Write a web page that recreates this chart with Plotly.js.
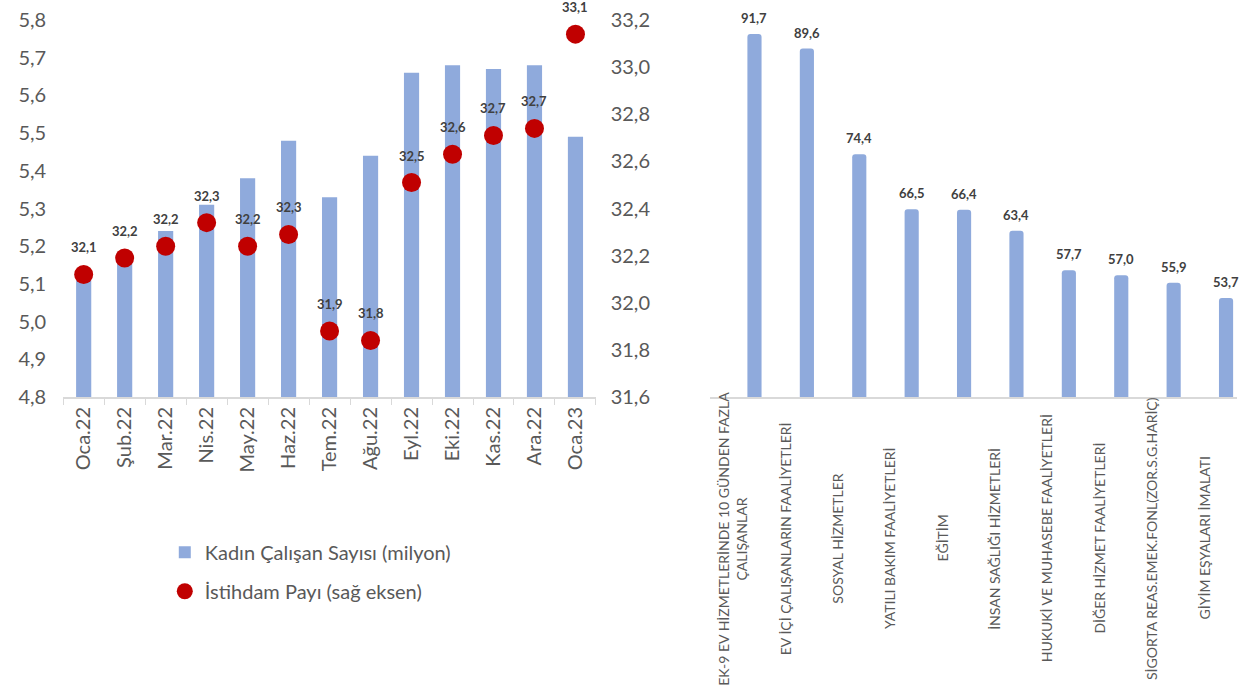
<!DOCTYPE html>
<html>
<head>
<meta charset="utf-8">
<script src="https://cdn.plot.ly/plotly-3.0.1.min.js"></script>
<style>
  html, body { margin: 0; padding: 0; background: #fff; }
  #plot { width: 1239px; height: 687px; }
</style>
</head>
<body>
<div id="plot"></div>
<script>
// Left chart: monthly female workers (left axis) and employment share (right axis)
var months = ["Oca.22", "Şub.22", "Mar.22", "Nis.22", "May.22", "Haz.22", "Tem.22",
              "Ağu.22", "Eyl.22", "Eki.22", "Kas.22", "Ara.22", "Oca.23"];
var workers = [5.11, 5.16, 5.24, 5.31, 5.38, 5.48, 5.33, 5.44, 5.66, 5.68, 5.67, 5.68, 5.49];
var share = [32.12, 32.19, 32.24, 32.34, 32.24, 32.29, 31.88, 31.84, 32.51, 32.63, 32.71, 32.74, 33.14];

// Right chart: sectors with highest female share
var sectors = [
  "EK-9 EV HİZMETLERİNDE 10 GÜNDEN FAZLA<br>ÇALIŞANLAR",
  "EV İÇİ ÇALIŞANLARIN FAALİYETLERİ",
  "SOSYAL HİZMETLER",
  "YATILI BAKIM FAALİYETLERİ",
  "EĞİTİM",
  "İNSAN SAĞLIĞI HİZMETLERİ",
  "HUKUKİ VE MUHASEBE FAALİYETLERİ",
  "DİĞER HİZMET FAALİYETLERİ",
  "SİGORTA REAS.EMEK.FONL(ZOR.S.G.HARİÇ)",
  "GİYİM EŞYALARI İMALATI"
];
var sectorShare = [91.7, 89.6, 74.4, 66.5, 66.4, 63.4, 57.7, 57.0, 55.9, 53.7];

var FONT = "Lato, 'Open Sans', sans-serif";
var GREY = "#595959";
var fmt = function (v) { return v.toFixed(1).replace(".", ","); };

var trace1 = {
  x: months,
  y: workers,
  name: "Kadın Çalışan Sayısı (milyon)",
  type: "bar",
  width: 0.37,
  marker: { color: "#8faadc" },
  xaxis: "x", yaxis: "y",
  legendgroup: "a"
};

var trace2 = {
  x: months,
  y: share,
  name: "İstihdam Payı (sağ eksen)",
  type: "scatter",
  mode: "markers",
  marker: { color: "#c00000", size: 19 },
  cliponaxis: false,
  xaxis: "x", yaxis: "y2",
  legendgroup: "b"
};

var trace3 = {
  x: sectors,
  y: sectorShare,
  type: "bar",
  width: 0.27,
  marker: { color: "#8faadc", cornerradius: 3 },
  xaxis: "x3", yaxis: "y3",
  showlegend: false
};

var annotations = [];
months.forEach(function (m, i) {
  annotations.push({
    x: m, y: share[i], xref: "x", yref: "y2",
    text: fmt(share[i]), showarrow: false, yshift: 27,
    font: { family: FONT, size: 13, color: "#404040", weight: "bold" }
  });
});
sectors.forEach(function (s, i) {
  annotations.push({
    x: s, y: sectorShare[i], xref: "x3", yref: "y3",
    text: fmt(sectorShare[i]), showarrow: false, yanchor: "bottom", yshift: 6,
    font: { family: FONT, size: 13, color: "#404040", weight: "bold" }
  });
  annotations.push({
    x: s, y: -0.375, xref: "x3", yref: "paper",
    text: s, showarrow: false, textangle: -90, xshift: -22,
    xanchor: "center", yanchor: "middle",
    font: { family: FONT, size: 14, color: GREY }
  });
});

var layout = {
  width: 1239,
  height: 687,
  margin: { l: 0, r: 0, t: 20, b: 290 },
  paper_bgcolor: "#fff",
  plot_bgcolor: "rgba(0,0,0,0)",
  separators: ",.",
  font: { family: FONT, color: GREY },
  showlegend: true,
  legend: {
    x: 0.133, y: -0.36, xanchor: "left", yanchor: "top",
    font: { size: 20, color: GREY },
    tracegroupgap: 10,
    itemwidth: 30
  },
  xaxis: {
    domain: [0.051, 0.481],
    type: "category",
    range: [-0.5, 12.5],
    tickangle: -90,
    tickfont: { size: 20, color: GREY },
    showline: true, linecolor: "#d9d9d9", linewidth: 2,
    ticks: "outside", tickson: "boundaries", ticklen: 6, tickcolor: "#d9d9d9",
    automargin: false
  },
  yaxis: {
    range: [4.8, 5.8],
    dtick: 0.1,
    tickformat: ".1f",
    tickfont: { size: 20, color: GREY },
    showgrid: false, zeroline: false, showline: false,
    ticklabelstandoff: 16,
    automargin: false
  },
  yaxis2: {
    range: [31.6, 33.2],
    dtick: 0.2,
    tickformat: ".1f",
    overlaying: "y",
    side: "right",
    anchor: "free",
    position: 0.484,
    tickfont: { size: 20, color: GREY },
    showgrid: false, zeroline: false, showline: false,
    ticklabelstandoff: 10,
    automargin: false
  },
  xaxis3: {
    domain: [0.573, 0.998],
    anchor: "y3",
    type: "category",
    range: [-0.85, 9.2],
    showticklabels: false,
    showline: true, linecolor: "#d9d9d9", linewidth: 2,
    ticks: "",
    automargin: false
  },
  yaxis3: {
    anchor: "x3",
    range: [39.47, 93.71],
    showticklabels: false, showgrid: false, zeroline: false, showline: false,
    automargin: false
  },
  annotations: annotations
};

Plotly.newPlot("plot", [trace1, trace2, trace3], layout, { displayModeBar: false });
</script>
</body>
</html>
